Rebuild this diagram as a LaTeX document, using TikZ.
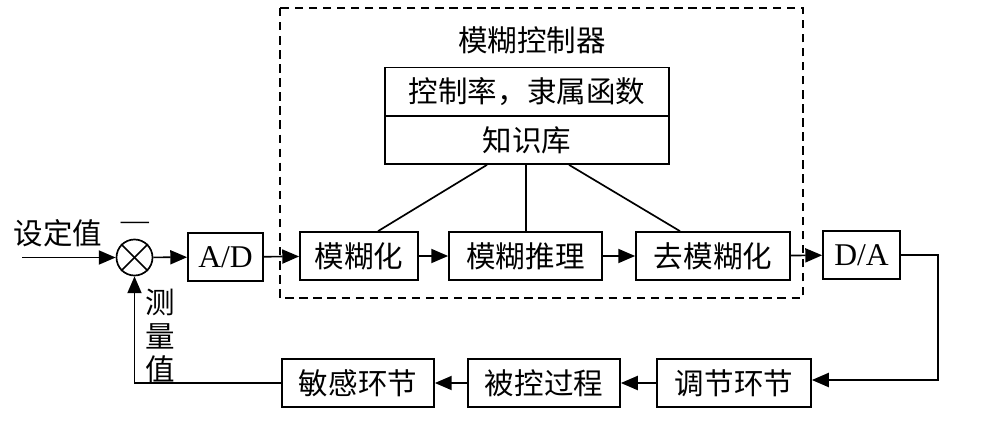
\documentclass[tikz,border=0pt]{standalone}
\usepackage{fontspec}
\setmainfont{Liberation Serif}
\newfontfamily\cjk{Noto Sans CJK SC}
\usetikzlibrary{arrows.meta}

\begin{document}
\begin{tikzpicture}[x=0.025cm,y=-0.025cm,>={Triangle[length=12pt,width=10pt]},line width=1.2pt,
  block/.style={rectangle,draw,inner sep=0pt,minimum height=1.2cm,font=\cjk\fontsize{21}{24}\selectfont},
  conv/.style={rectangle,draw,inner sep=0pt,minimum height=1.2cm,font=\fontsize{22.5}{24}\selectfont},
  lbl/.style={inner sep=0pt,font=\cjk\fontsize{21}{24}\selectfont}]

            \useasboundingbox (0,0) rectangle (983,432);

            % fuzzy controller frame
            \draw[dash pattern=on 6pt off 4pt] (280,8) rectangle (803,298);
            \node[lbl] (title) at (532,40) {模糊控制器};

            \node[block, minimum width=7.1cm] (rule) at (527,91.5) {控制率，隶属函数};
            \node[block, minimum width=7.1cm] (kb) at (527,140) {知识库};

            % forward path
            \node[circle, draw, minimum size=0.9cm, inner sep=0pt] (sum) at (134.5,257.5) {};
            \draw (sum.north west) -- (sum.south east);
            \draw (sum.north east) -- (sum.south west);
            \node[conv, minimum width=1.875cm] (ad) at (225.5,257) {A/D};
            \node[block, minimum width=2.95cm] (fuzz) at (359,256) {模糊化};
            \node[block, minimum width=3.825cm] (infer) at (525.5,256) {模糊推理};
            \node[block, minimum width=3.85cm] (defuzz) at (713,256) {去模糊化};
            \node[conv, minimum width=1.925cm] (da) at (861.5,255) {D/A};

            % return path
            \node[block, minimum width=3.85cm] (adj) at (734,383) {调节环节};
            \node[block, minimum width=3.8cm] (plant) at (544,383) {被控过程};
            \node[block, minimum width=3.8cm] (sens) at (358,383) {敏感环节};

            \coordinate (in) at (22,257.5);
            \coordinate (c1) at (938,255);
            \coordinate (c2) at (938,380);
            \coordinate (c3) at (134.5,383);

            \node[lbl] (set) at (58,233) {设定值};
            \node[inner sep=0pt, font=\fontsize{20}{24}\selectfont] (minus) at (135,226) {---};
            \node[lbl, align=center, font=\cjk\fontsize{21}{23.6}\selectfont] (meas) at (160,336) {测\\量\\值};

            \draw[->] (in) to (sum.west);
            \draw[->] (sum) to (ad);
            \draw[->] (ad) to (fuzz);
            \draw[->] (fuzz) to (infer);
            \draw[->] (infer) to (defuzz);
            \draw[->] (defuzz) to (da);
            \draw[->] (da.east |- c1) -- (c1) -- (c2) -- (adj.east |- c2);
            \draw[->] (adj) to (plant);
            \draw[->] (plant) to (sens);
            \draw[->] (sens.west) -- (c3) -- (sum.south);

            \draw (kb.south -| 487,0) -- (fuzz.north -| 378,0);
            \draw (kb.south -| 526,0) -- (infer.north -| 526,0);
            \draw (kb.south -| 569,0) -- (defuzz.north -| 680,0);

        \end{tikzpicture}
\end{document}
